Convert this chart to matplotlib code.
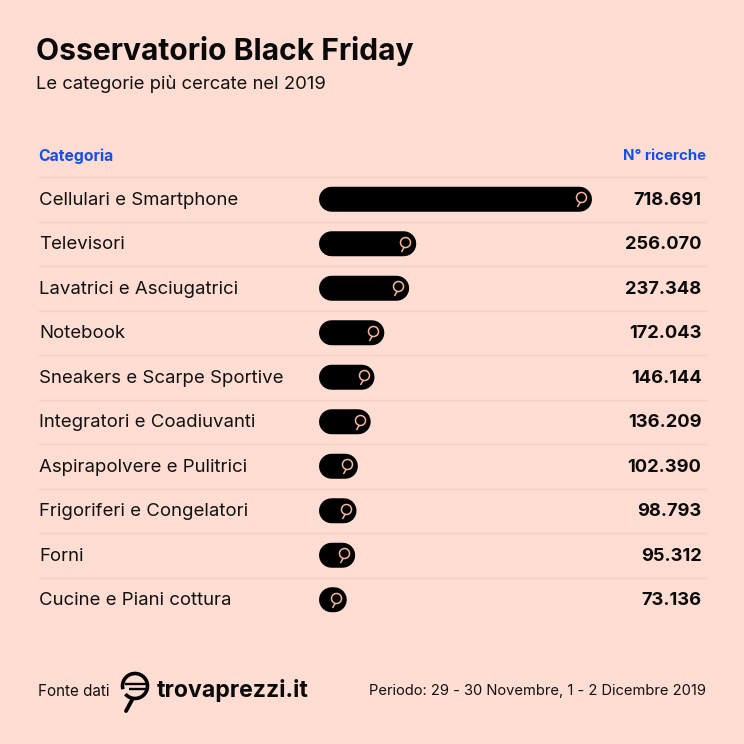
import matplotlib
matplotlib.use('Agg')
import matplotlib.pyplot as plt
from matplotlib.patches import Arc
from matplotlib.path import Path
from matplotlib.transforms import ScaledTranslation

categories = ['Cellulari e Smartphone', 'Televisori', 'Lavatrici e Asciugatrici', 'Notebook',
              'Sneakers e Scarpe Sportive', 'Integratori e Coadiuvanti', 'Aspirapolvere e Pulitrici',
              'Frigoriferi e Congelatori', 'Forni', 'Cucine e Piani cottura']
values = [718691, 256070, 237348, 172043, 146144, 136209, 102390, 98793, 95312, 73136]
value_labels = ['718.691', '256.070', '237.348', '172.043', '146.144', '136.209', '102.390', '98.793', '95.312', '73.136']

BG = '#FFDDD3'
RULE = '#F9CFC4'
BLUE = '#1450E6'
ICON = '#F4B79E'
FONT = 'Inter'
plt.rcParams['font.family'] = [FONT, 'DejaVu Sans']

fig = plt.figure(figsize=(7.44, 7.44), dpi=100, facecolor=BG)

# page axes in pixels, for text and the logo
page = fig.add_axes([0, 0, 1, 1])
page.set_xlim(0, 744)
page.set_ylim(744, 0)
page.axis('off')

page.text(36, 51, 'Osservatorio Black Friday', fontsize=21.6, fontweight='bold', color='#0a0a0a', va='center')
page.text(36, 84, 'Le categorie più cercate nel 2019', fontsize=13.3, color='#111111', va='center')
page.text(38.5, 156, 'Categoria', fontsize=11.3, fontweight='bold', color=BLUE, va='center')
page.text(706, 156, 'N° ricerche', fontsize=10.8, fontweight='bold', color=BLUE, va='center', ha='right')

# chart axes: value scale on x, row index on y
X0, X1, Y_TOP, ROW = 319, 592, 177, 44.5
n = len(values)
chart = fig.add_axes([X0 / 744, 1 - (Y_TOP + n * ROW) / 744, (X1 - X0) / 744, n * ROW / 744])
chart.set_xlim(0, max(values))
chart.set_ylim(n - 0.5, -0.5)
chart.axis('off')
chart.patch.set_alpha(0)

px_per_x = (X1 - X0) / max(values)
BAR_PX = 25
cap = (BAR_PX / 2) / px_per_x

ring = Path.circle((0, 0), 1.0)
glass = Path.make_compound_path(ring, Path([(-0.3, 1.0), (-0.8, 1.9)], [Path.MOVETO, Path.LINETO]))
glass = Path(glass.vertices * [1, -1], glass.codes)
shift = chart.transData + ScaledTranslation(-11 / 100, 2 / 100, fig.dpi_scale_trans)

for i, (cat, v, lab) in enumerate(zip(categories, values, value_labels)):
    yc = Y_TOP + (i + 0.5) * ROW
    page.plot([39, 706], [Y_TOP + i * ROW] * 2, color=RULE, lw=1)
    page.text(39, yc + 1, cat, fontsize=13.4, color='#111111', va='center')
    page.text(701.5, yc + 1, lab, fontsize=13.2, fontweight='bold', color='#0a0a0a', va='center', ha='right')
    chart.plot([cap, v - cap], [i, i], color='black', lw=BAR_PX * 0.72, solid_capstyle='round', snap=False)
    chart.plot([v], [i], marker=glass, ms=13.7, mfc='none', mec=ICON, mew=1.1, ls='none', transform=shift)

# footer
page.text(38, 691, 'Fonte dati', fontsize=11, color='#111111', va='center')
page.text(706, 691, 'Periodo: 29 - 30 Novembre, 1 - 2 Dicembre 2019', fontsize=10.6, color='#111111', va='center', ha='right')
page.text(157, 691, 'trovaprezzi.it', fontsize=16.6, fontweight='bold', color='#0a0a0a', va='center')
page.add_patch(Arc((135, 686), 25, 25, theta1=165, theta2=500, lw=2.6, color='black'))
page.plot([125, 146], [684, 684], color='black', lw=1.7, solid_capstyle='butt')
page.plot([129, 146], [689, 689], color='black', lw=1.7, solid_capstyle='butt')
page.plot([132, 126], [700, 711], color='black', lw=2.8, solid_capstyle='round')

fig.savefig('out.png', dpi=100, facecolor=BG)
